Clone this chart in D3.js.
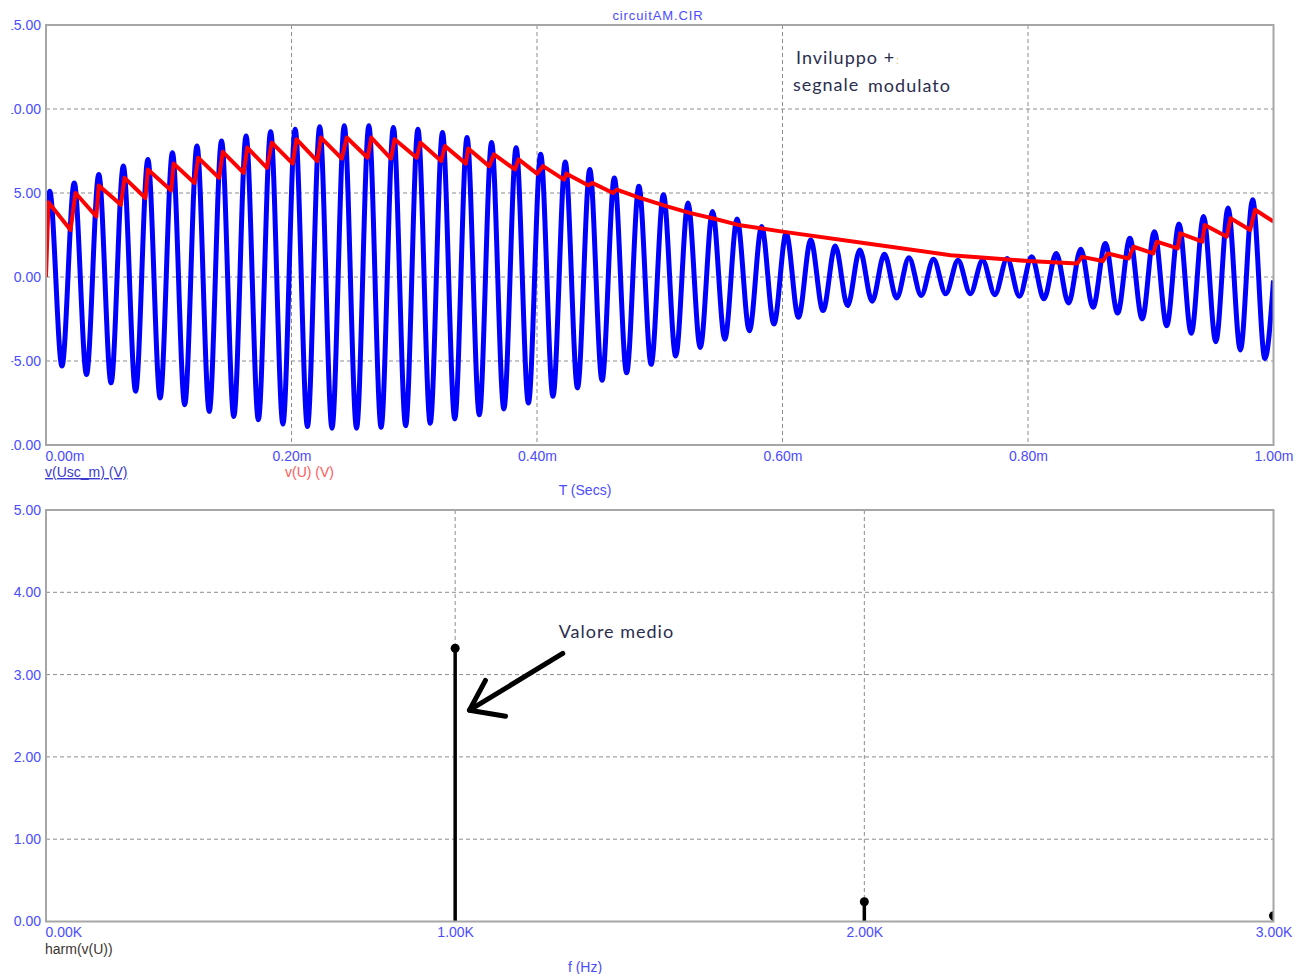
<!DOCTYPE html>
<html>
<head>
<meta charset="utf-8">
<script src="https://cdn.jsdelivr.net/npm/d3@7"></script>
<style>
  body { margin: 0; background: #fff; }
  text { font-family: "Liberation Sans", Arial, sans-serif; }
  .tick text { font-size: 14px; fill: #4b4bff; }
  .grid { stroke: #8c8c8c; stroke-width: 1; stroke-dasharray: 4,3; }
  .frame { fill: none; stroke: #a6a6a6; stroke-width: 2; }
  .note { font-family: Lato, sans-serif; font-size: 18px; letter-spacing: 1px; fill: #2b2d4e; }
</style>
</head>
<body>
<script>
// Data
//= ================================
var timeTicks = [0, 0.2, 0.4, 0.6, 0.8, 1.0];
var timeTickLabels = ["0.00m", "0.20m", "0.40m", "0.60m", "0.80m", "1.00m"];
var voltTicks = [15, 10, 5, 0, -5, -10];
var voltTickLabels = ["15.00", "10.00", "5.00", "0.00", "-5.00", "-10.00"];

// v(Usc_m): carrier extrema (ms, V)
var usceT = [0,
  0.003, 0.013, 0.023, 0.033, 0.043, 0.053, 0.063, 0.073, 0.083, 0.093,
  0.103, 0.113, 0.123, 0.133, 0.143, 0.153, 0.163, 0.173, 0.183, 0.193,
  0.203, 0.213, 0.223, 0.233, 0.243, 0.253, 0.263, 0.273, 0.283, 0.293,
  0.303, 0.313, 0.323, 0.333, 0.343, 0.353, 0.363, 0.373, 0.383, 0.393,
  0.403, 0.413, 0.423, 0.433, 0.443, 0.453, 0.463, 0.473, 0.483, 0.493,
  0.503, 0.513, 0.523, 0.533, 0.543, 0.553, 0.563, 0.573, 0.583, 0.593,
  0.603, 0.613, 0.623, 0.633, 0.643, 0.653, 0.663, 0.673, 0.683, 0.693,
  0.703, 0.713, 0.723, 0.733, 0.743, 0.753, 0.763, 0.773, 0.783, 0.793,
  0.803, 0.813, 0.823, 0.833, 0.843, 0.853, 0.863, 0.873, 0.883, 0.893,
  0.903, 0.913, 0.923, 0.933, 0.943, 0.953, 0.963, 0.973, 0.983, 0.993,
  1.0];
var usceV = [2.5,
  5.1, -5.3, 5.6, -5.8, 6.1, -6.3, 6.6, -6.8, 7.0, -7.2,
  7.4, -7.6, 7.8, -8.0, 8.1, -8.3, 8.4, -8.5, 8.65, -8.75,
  8.8, -8.9, 8.95, -9.0, 9.0, -9.0, 9.0, -8.95, 8.9, -8.85,
  8.8, -8.7, 8.6, -8.45, 8.3, -8.2, 8.0, -7.85, 7.7, -7.5,
  7.3, -7.1, 6.85, -6.6, 6.4, -6.15, 5.9, -5.7, 5.4, -5.2,
  4.9, -4.7, 4.4, -4.2, 3.9, -3.7, 3.45, -3.2, 3.0, -2.8,
  2.6, -2.4, 2.2, -2.0, 1.85, -1.7, 1.6, -1.45, 1.35, -1.25,
  1.15, -1.1, 1.05, -1.0, 1.0, -1.0, 1.0, -1.05, 1.1, -1.15,
  1.2, -1.3, 1.4, -1.55, 1.65, -1.8, 2.0, -2.15, 2.3, -2.5,
  2.7, -2.9, 3.15, -3.35, 3.6, -3.85, 4.1, -4.35, 4.6, -4.85,
  -0.2];

// v(U): detector output vertices (ms, V)
var envT = [0, 0.002, 0.020, 0.024, 0.041, 0.043, 0.061, 0.064, 0.081, 0.083,
  0.102, 0.104, 0.121, 0.124, 0.141, 0.144, 0.161, 0.164, 0.180, 0.184,
  0.201, 0.204, 0.221, 0.224, 0.241, 0.245, 0.262, 0.265, 0.281, 0.284,
  0.302, 0.305, 0.322, 0.325, 0.342, 0.344, 0.361, 0.365, 0.382, 0.385,
  0.400, 0.405, 0.422, 0.424, 0.442, 0.445, 0.462, 0.465, 0.482, 0.506,
  0.525, 0.543, 0.564, 0.600, 0.669, 0.737, 0.800, 0.840, 0.844, 0.861,
  0.865, 0.882, 0.886, 0.902, 0.905, 0.922, 0.924, 0.942, 0.944, 0.962,
  0.965, 0.981, 0.985, 1.0];
var envV = [0, 4.45, 2.8, 5.0, 3.6, 5.45, 4.3, 5.9, 4.7, 6.4,
  5.15, 6.75, 5.6, 7.1, 5.9, 7.45, 6.2, 7.7, 6.5, 8.0,
  6.75, 8.2, 6.9, 8.3, 7.05, 8.3, 7.1, 8.3, 7.05, 8.2,
  7.1, 8.0, 6.9, 7.8, 6.75, 7.65, 6.6, 7.3, 6.4, 7.0,
  6.15, 6.6, 5.8, 6.15, 5.45, 5.6, 5.0, 5.2, 4.75, 4.2,
  3.8, 3.5, 3.1, 2.7, 2.0, 1.3, 0.95, 0.8, 1.2, 0.95,
  1.4, 1.1, 1.8, 1.4, 2.1, 1.7, 2.6, 2.1, 3.1, 2.4,
  3.5, 2.8, 4.0, 3.3];

var freqTicks = [0, 1, 2, 3];
var freqTickLabels = ["0.00K", "1.00K", "2.00K", "3.00K"];
var harmTicks = [5, 4, 3, 2, 1, 0];
var harmTickLabels = ["5.00", "4.00", "3.00", "2.00", "1.00", "0.00"];

// harm(v(U)): frequency (kHz) and amplitude (V)
var harmFreq = [1, 2, 3];
var harmAmp = [3.32, 0.24, 0.07];

// Set up the page
//= ================================
var svgWidth = 1303;
var svgHeight = 974;
var plotLeft = 46, plotRight = 1273.5;

var svg = d3.select("body").append("svg")
  .attr("width", svgWidth)
  .attr("height", svgHeight);

var defs = svg.append("defs");
// the window cuts the long y labels on their left side
defs.append("clipPath").attr("id", "labelClip")
  .append("rect").attr("x", 11.5).attr("y", 0).attr("width", svgWidth).attr("height", svgHeight);

/**********************************************/
function drawPanel(opts) {
  var x = d3.scaleLinear().domain(opts.xDomain).range([plotLeft, plotRight]);
  var y = d3.scaleLinear().domain(opts.yDomain).range([opts.bottom, opts.top]);

  defs.append("clipPath").attr("id", opts.id)
    .append("rect")
    .attr("x", plotLeft).attr("y", opts.top)
    .attr("width", plotRight - plotLeft).attr("height", opts.bottom - opts.top);

  // grid
  var g = svg.append("g");
  g.selectAll(".hgrid")
    .data(opts.yTicks.filter(d => d !== opts.yDomain[0] && d !== opts.yDomain[1]))
    .enter().append("line")
    .attr("class", "grid")
    .attr("x1", plotLeft).attr("x2", plotRight)
    .attr("y1", d => y(d)).attr("y2", d => y(d));
  g.selectAll(".vgrid")
    .data(opts.xTicks.filter(d => d !== opts.xDomain[0] && d !== opts.xDomain[1]))
    .enter().append("line")
    .attr("class", "grid")
    .attr("y1", opts.top).attr("y2", opts.bottom)
    .attr("x1", d => x(d)).attr("x2", d => x(d));

  // axes (labels only)
  var yAxis = d3.axisLeft(y)
    .tickValues(opts.yTicks)
    .tickSize(0).tickPadding(5)
    .tickFormat((d, i) => opts.yLabels[i]);
  var ya = svg.append("g")
    .attr("clip-path", "url(#labelClip)")
    .append("g")
    .attr("transform", `translate(${plotLeft}, 0)`)
    .call(yAxis);
  ya.select(".domain").remove();

  var xAxis = d3.axisBottom(x)
    .tickValues(opts.xTicks)
    .tickSize(0).tickPadding(6)
    .tickFormat((d, i) => opts.xLabels[i]);
  var xa = svg.append("g")
    .attr("transform", `translate(0, ${opts.bottom})`)
    .call(xAxis);
  xa.select(".domain").remove();
  xa.select(".tick text").attr("text-anchor", "start").attr("x", -1);

  svg.selectAll(".tick text").attr("font-family", null).attr("font-size", null);

  var plot = svg.append("g").attr("clip-path", `url(#${opts.id})`);

  svg.append("rect")
    .attr("class", "frame")
    .attr("x", plotLeft).attr("y", opts.top)
    .attr("width", plotRight - plotLeft).attr("height", opts.bottom - opts.top);

  return { x: x, y: y, plot: plot };
}

// Top panel: time domain
//= ================================
var topPanel = drawPanel({
  id: "clipTop", top: 25, bottom: 445,
  xDomain: [0, 1.0], yDomain: [-10, 15],
  xTicks: timeTicks, xLabels: timeTickLabels,
  yTicks: voltTicks, yLabels: voltTickLabels
});

var usceLine = d3.line()
  .x((d, i) => topPanel.x(usceT[i]))
  .y(d => topPanel.y(d))
  .curve(d3.curveMonotoneX);

topPanel.plot.append("path")
  .attr("d", usceLine(usceV))
  .attr("fill", "none")
  .attr("stroke", "#0000ff")
  .attr("stroke-width", 5)
  .attr("stroke-linejoin", "round");

var envLine = d3.line()
  .x((d, i) => topPanel.x(envT[i]))
  .y(d => topPanel.y(d));

topPanel.plot.append("path")
  .attr("d", envLine(envV))
  .attr("fill", "none")
  .attr("stroke", "#ff0000")
  .attr("stroke-width", 4)
  .attr("stroke-linejoin", "round");

// titles and legends
svg.append("text")
  .attr("x", 658).attr("y", 19.5)
  .attr("text-anchor", "middle")
  .attr("font-size", 13).attr("letter-spacing", 0.9)
  .attr("fill", "#4b4bff")
  .text("circuitAM.CIR");

svg.append("text")
  .attr("x", 45).attr("y", 477)
  .attr("font-size", 14).attr("fill", "#3a3ad0")
  .attr("text-decoration", "underline")
  .text("v(Usc_m) (V)");

svg.append("text")
  .attr("x", 285).attr("y", 477)
  .attr("font-size", 14).attr("fill", "#ff5a5a")
  .text("v(U) (V)");

svg.append("text")
  .attr("x", 585).attr("y", 495)
  .attr("text-anchor", "middle")
  .attr("font-size", 14).attr("fill", "#4b4bff")
  .text("T (Secs)");

var n1 = svg.append("text")
  .attr("class", "note")
  .attr("x", topPanel.x(0.611)).attr("y", topPanel.y(12.65));
n1.append("tspan").text("Inviluppo +");
n1.append("tspan").attr("fill", "#f2c48a").attr("font-size", 12).attr("dx", 1).text(":");

svg.append("text")
  .attr("class", "note")
  .attr("x", topPanel.x(0.6085)).attr("y", topPanel.y(11.08))
  .text("segnale");
svg.append("text")
  .attr("class", "note")
  .attr("x", topPanel.x(0.6697)).attr("y", topPanel.y(11.02))
  .text("modulato");

// Bottom panel: harmonics
//= ================================
var botPanel = drawPanel({
  id: "clipBot", top: 510, bottom: 921.5,
  xDomain: [0, 3], yDomain: [0, 5],
  xTicks: freqTicks, xLabels: freqTickLabels,
  yTicks: harmTicks, yLabels: harmTickLabels
});

botPanel.plot.selectAll(".stem")
  .data(harmAmp)
  .enter().append("line")
  .attr("class", "stem")
  .attr("x1", (d, i) => botPanel.x(harmFreq[i]))
  .attr("x2", (d, i) => botPanel.x(harmFreq[i]))
  .attr("y1", botPanel.y(0))
  .attr("y2", d => botPanel.y(d))
  .attr("stroke", "#000")
  .attr("stroke-width", 3.5);

botPanel.plot.selectAll(".dot")
  .data(harmAmp)
  .enter().append("circle")
  .attr("class", "dot")
  .attr("cx", (d, i) => botPanel.x(harmFreq[i]))
  .attr("cy", d => botPanel.y(d))
  .attr("r", 4.5)
  .attr("fill", "#000");

svg.append("text")
  .attr("x", 45).attr("y", 954)
  .attr("font-size", 14).attr("fill", "#3b3530")
  .text("harm(v(U))");

svg.append("text")
  .attr("x", 585).attr("y", 972)
  .attr("text-anchor", "middle")
  .attr("font-size", 14).attr("fill", "#4b4bff")
  .text("f (Hz)");

svg.append("text")
  .attr("class", "note")
  .attr("x", botPanel.x(1.253)).attr("y", botPanel.y(3.44))
  .attr("fill", "#2f3a66")
  .text("Valore medio");

// hand-drawn arrow pointing at the 1K line
var arrowShaft = [[1.263, 3.257], [1.035, 2.567]];
var arrowHead = [[1.074, 2.93], [1.035, 2.567], [1.123, 2.494]];
var arrowLine = d3.line().x(d => botPanel.x(d[0])).y(d => botPanel.y(d[1]));

[arrowShaft, arrowHead].forEach(function (pts) {
  svg.append("path")
    .attr("d", arrowLine(pts))
    .attr("fill", "none")
    .attr("stroke", "#000")
    .attr("stroke-width", 5)
    .attr("stroke-linecap", "round")
    .attr("stroke-linejoin", "round");
});
</script>
</body>
</html>
